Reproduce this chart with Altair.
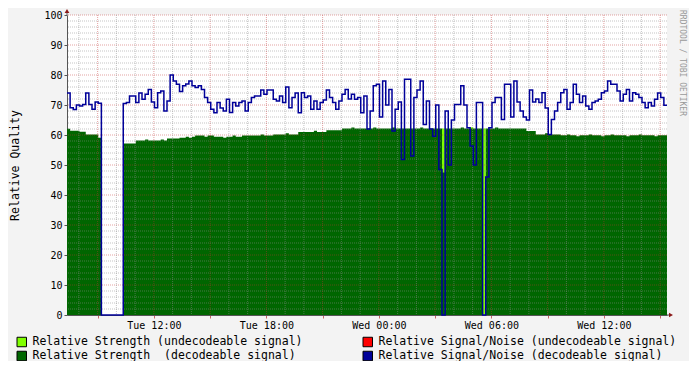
import altair as alt
import pandas as pd

MONO = "DejaVu Sans Mono"

# ---- data (10-minute samples) ----
strength_decodeable = [
    62.1, 61.4, 61.4, 61.4, 61.1, 61.1, 60.2, 60.2, 60.2, 60.2, 59.1, 0,
    0, 0, 0, 0, 0, 0, 57.2, 57.2, 57.2, 57.2, 58.2, 58.2,
    58.2, 58.5, 58.2, 58.2, 58.2, 58.2, 58.5, 58.2, 58.8, 58.8, 58.8, 58.8,
    59.1, 59.1, 59.4, 59.1, 59.4, 59.8, 59.8, 59.8, 59.4, 59.8, 59.8, 59.4,
    59.4, 59.4, 59.1, 59.4, 59.4, 59.8, 59.4, 59.4, 59.8, 59.8, 59.8, 59.8,
    59.8, 59.8, 60.2, 59.8, 59.8, 59.8, 60.2, 60.2, 60.2, 60.2, 60.6, 60.2,
    60.2, 60.2, 61.0, 61.0, 61.0, 61.0, 61.0, 61.4, 61.0, 61.0, 61.0, 61.6,
    61.6, 61.6, 61.6, 61.6, 62.2, 62.2, 62.2, 62.5, 62.2, 62.2, 62.2, 62.2,
    62.2, 62.2, 62.5, 62.2, 62.2, 62.2, 62.2, 62.2, 62.5, 62.2, 62.2, 62.2,
    62.2, 62.2, 62.2, 62.2, 62.2, 62.5, 62.2, 62.2, 62.2, 62.2, 62.2, 62.2,
    47.5, 62.2, 62.2, 62.2, 62.2, 62.2, 62.5, 62.2, 62.2, 62.2, 62.2, 62.2,
    62.2, 0, 62.2, 62.2, 62.2, 62.5, 62.2, 62.2, 62.2, 62.2, 62.2, 62.2,
    62.2, 62.2, 62.2, 61.3, 61.3, 61.3, 60.2, 60.2, 60.2, 60.6, 60.2, 60.2,
    60.2, 60.2, 59.9, 59.9, 60.2, 59.9, 59.9, 59.6, 59.9, 59.9, 59.9, 60.2,
    59.9, 59.9, 59.9, 59.6, 59.9, 59.9, 60.2, 59.9, 59.9, 59.9, 59.9, 59.6,
    59.9, 59.9, 59.9, 60.2, 59.9, 59.9, 59.9, 59.9, 59.6, 59.9, 59.9, 59.9,
]

snr_decodeable = [
    74, 69.1, 68.5, 70, 69.7, 70.2, 74, 70.2, 68.6, 71, 70.6, 0,
    0, 0, 0, 0, 0, 0, 70.5, 70.8, 73, 73, 70.8, 74,
    71.9, 73.6, 75.2, 71, 69.1, 74.1, 74.7, 68, 71.3, 80, 78, 76.9,
    74.5, 76.4, 77, 78, 76.4, 75.8, 76.4, 75.2, 72.5, 70.8, 68.6, 67.4,
    70.8, 69, 68, 71.9, 67.5, 70.8, 69.7, 70.8, 71.3, 68, 70.8, 72.5,
    73, 73, 75, 73.6, 75, 75, 71.9, 71.3, 73, 70.8, 76, 69.1,
    72.5, 74, 67.4, 74.1, 72.5, 73, 68.6, 71.3, 68.6, 70.8, 71.7, 75,
    72.5, 70.8, 68.6, 71.3, 73.6, 75.2, 72, 73.6, 71.9, 72.5, 67.4, 73,
    62, 68, 76.4, 76.9, 66, 78, 70, 75.2, 61.3, 68.6, 71, 51.8,
    78.6, 78.6, 53, 72.5, 75, 78, 63.5, 71.3, 62, 59.6, 70, 48.5,
    0, 68, 50, 65, 70.2, 70.2, 76.4, 70, 62.4, 56.3, 50, 70.8,
    70.8, 0, 46, 62.4, 70.8, 72.5, 72.5, 65.2, 76.9, 76.9, 66, 78,
    71, 68, 66, 65, 75, 71, 72, 70.8, 74.1, 69, 60.2, 65.2,
    68, 70.8, 74.1, 75.2, 68.6, 70.8, 76.9, 73.6, 70.8, 73, 69.7, 68.6,
    70.8, 71.3, 71.9, 74.1, 74.7, 78, 76.9, 76.9, 74.7, 71.3, 73.6, 75.2,
    71.3, 74.1, 73.6, 72.5, 70.8, 69.1, 70.8, 69.7, 71.9, 74, 72.5, 69.9,
]

# samples where the signal was undecodeable, and the strength there
undecodeable_index = [120, 129, 133]
strength_undecodeable_at = [62.2, 62.6, 62.2]

L_STR_UND = "Relative Strength (undecodeable signal)"
L_SNR_UND = "Relative Signal/Noise (undecodeable signal)"
L_STR_DEC = "Relative Strength\u00a0 (decodeable signal)"
L_SNR_DEC = "Relative Signal/Noise (decodeable signal)"
# legend is filled column by column: first column strength, second column S/N
LABELS = [L_STR_UND, L_STR_DEC, L_SNR_UND, L_SNR_DEC]
COLORS = ["#80FF00", "#006600", "#FF0000", "#000099"]

y_ticks = [0, 10, 20, 30, 40, 50, 60, 70, 80, 90, 100]
y_minor = [v for v in range(2, 100, 2) if v % 10]
y_major = [10, 20, 30, 40, 50, 60, 70, 80, 90, 100]

start = pd.Timestamp("2024-01-02 07:22")
end = pd.Timestamp("2024-01-03 15:22")
n = len(snr_decodeable)
assert len(strength_decodeable) == n

times = pd.date_range(start, periods=n + 1, freq="10min")
tstr = [t.strftime("%Y-%m-%dT%H:%M:%S") for t in times]

strength_undecodeable = [0.0] * n
for i, v in zip(undecodeable_index, strength_undecodeable_at):
    strength_undecodeable[i] = v

df_dark = pd.DataFrame({"t": tstr, "v": strength_decodeable + [strength_decodeable[-1]], "series": L_STR_DEC})
df_light = pd.DataFrame({"t": tstr, "v": strength_undecodeable + [strength_undecodeable[-1]], "series": L_STR_UND})
df_snr = pd.DataFrame({"t": tstr, "v": snr_decodeable + [snr_decodeable[-1]]})

hours_all = pd.date_range("2024-01-02 08:00", "2024-01-03 15:00", freq="1h")
x_minor = [t.strftime("%Y-%m-%dT%H:%M:%S") for t in hours_all if t.hour % 3]
x_major_ts = [t for t in hours_all if t.hour % 3 == 0]
x_major = [t.strftime("%Y-%m-%dT%H:%M:%S") for t in x_major_ts]


def dt(t):
    return alt.DateTime(year=t.year, month=t.month, date=t.day, hours=t.hour, minutes=t.minute)


xscale = alt.Scale(domain=[dt(start), dt(end)])
yscale = alt.Scale(domain=[0, 100], nice=False, zero=True)

xaxis = alt.Axis(
    values=[dt(t) for t in x_major_ts],
    labelExpr="hours(datum.value) % 6 == 0 ? timeFormat(datum.value, '%a %H:%M') : ''",
    grid=False, title=None, labelFont=MONO, labelFontSize=10, labelColor="#000000",
    tickColor="#C86464", tickSize=3, domainColor="#555555", labelPadding=2,
    labelOverlap=False, labelFlush=False,
)
yaxis = alt.Axis(
    values=y_ticks, grid=False, title="Relative Quality", titleFont=MONO,
    titleFontSize=11.5, titleFontWeight="normal", titleColor="#000000", titlePadding=23,
    labelFont=MONO, labelFontSize=10, labelColor="#000000", tickSize=3,
    tickColor="#555555", domainColor="#555555", labelPadding=2,
)

X = alt.X("t:T", scale=xscale, axis=xaxis)
Y = alt.Y("v:Q", scale=yscale, axis=yaxis, stack=None)

color_enc = alt.Color(
    "series:N",
    scale=alt.Scale(domain=LABELS, range=COLORS),
    legend=alt.Legend(
        orient="none", legendX=-51, legendY=320, columns=2, title=None,
        labelFont=MONO, labelFontSize=11.5, labelColor="#000000", labelLimit=600,
        symbolType="square", symbolSize=90, symbolStrokeColor="#000000",
        symbolStrokeWidth=1, symbolOpacity=1, columnPadding=59, rowPadding=0,
        clipHeight=14, labelOffset=5,
    ),
)

light_area = alt.Chart(df_light).mark_area(interpolate="step-after", opacity=1).encode(x=X, y=Y, color=color_enc)
dark_area = alt.Chart(df_dark).mark_area(interpolate="step-after", opacity=1).encode(x=X, y=Y, color=color_enc)

grid_kw = dict(strokeDash=[1, 1], strokeWidth=1)
gy_minor = alt.Chart(pd.DataFrame({"v": y_minor})).mark_rule(color="#8C8C8C", opacity=0.5, **grid_kw).encode(y=Y)
gy_major = alt.Chart(pd.DataFrame({"v": y_major})).mark_rule(color="#C03030", opacity=0.45, **grid_kw).encode(y=Y)
gx_minor = alt.Chart(pd.DataFrame({"t": x_minor})).mark_rule(color="#8C8C8C", opacity=0.5, **grid_kw).encode(x=X)
gx_major = alt.Chart(pd.DataFrame({"t": x_major})).mark_rule(color="#C03030", opacity=0.45, **grid_kw).encode(x=X)

snr_line = alt.Chart(df_snr).mark_line(interpolate="step-after", color="#000099", strokeWidth=1.5).encode(x=X, y=Y)

one = pd.DataFrame({"k": [0]})
y_ext = alt.Chart(one).mark_rule(color="#555555").encode(x=alt.value(0), y=alt.value(0), y2=alt.value(-4))
x_ext = alt.Chart(one).mark_rule(color="#555555").encode(x=alt.value(600), x2=alt.value(603), y=alt.value(300))
y_arrow = alt.Chart(one).mark_point(shape="triangle-up", filled=True, size=22, color="#8B1A1A", opacity=1).encode(
    x=alt.value(0), y=alt.value(-4))
x_arrow = alt.Chart(one).mark_point(shape="triangle-right", filled=True, size=22, color="#8B1A1A", opacity=1).encode(
    x=alt.value(604), y=alt.value(300))
watermark = alt.Chart(pd.DataFrame({"txt": ["RRDTOOL / TOBI OETIKER"]})).mark_text(
    angle=90, align="left", baseline="middle", font=MONO, fontSize=8, color="#9A9A9A"
).encode(x=alt.value(615), y=alt.value(-5), text="txt:N")

chart = alt.layer(
    light_area, dark_area, gy_minor, gy_major, gx_minor, gx_major, snr_line,
    y_ext, x_ext, y_arrow, x_arrow, watermark,
).properties(
    width=600, height=300,
    autosize=alt.AutoSizeParams(type="none"),
    padding={"left": 59, "top": 7, "right": 22, "bottom": 46},
    background="#F3F3F3",
).configure_view(strokeWidth=0, fill="white")

chart.save("out.html", embed_options={"renderer": "svg", "actions": False})
